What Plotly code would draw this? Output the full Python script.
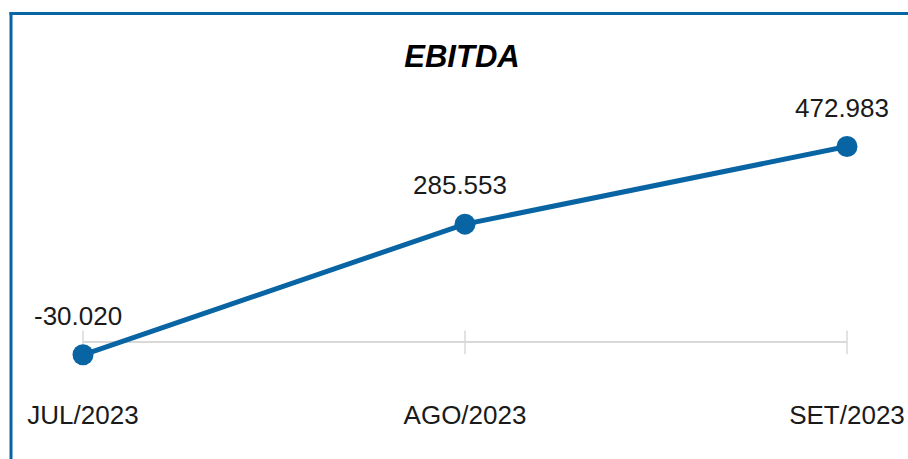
import plotly.graph_objects as go

categories = ["JUL/2023", "AGO/2023", "SET/2023"]
ebitda = [-30.020, 285.553, 472.983]
value_labels = ["-30.020", "285.553", "472.983"]

W, H = 908, 459
ML, MR, MT, MB = 83, 61, 60, 62
PW = W - ML - MR
PH = H - MT - MB

BLUE = "#0864a3"
FONT = "Liberation Sans, Arial, sans-serif"

fig = go.Figure()

# axis tick marks crossing the zero line
fig.add_trace(go.Scatter(
    x=categories, y=[0] * len(categories), mode="markers",
    marker=dict(symbol="line-ns", size=17, line=dict(width=1.5, color="#d9d9d9")),
    hoverinfo="skip", showlegend=False, cliponaxis=False,
))

fig.add_trace(go.Scatter(
    x=categories, y=ebitda, mode="lines+markers",
    line=dict(color=BLUE, width=5),
    marker=dict(color=BLUE, size=21),
    showlegend=False, cliponaxis=False,
))

for c, v, t in zip(categories, ebitda, value_labels):
    fig.add_annotation(x=c, y=v, text=t, showarrow=False, yshift=39, xshift=-5,
                       font=dict(family=FONT, size=26, color="#1a1a1a"))

def px_x(p):
    return (p - ML) / PW

def px_y(p):
    return 1 - (p - MT) / PH

# frame border (left and top visible)
fig.add_shape(type="line", xref="paper", yref="paper",
              x0=px_x(11), x1=px_x(11), y0=px_y(12), y1=px_y(H + 20),
              line=dict(color=BLUE, width=3))
fig.add_shape(type="line", xref="paper", yref="paper",
              x0=px_x(9.5), x1=px_x(W + 20), y0=px_y(13.5), y1=px_y(13.5),
              line=dict(color=BLUE, width=3))

fig.update_layout(
    width=W, height=H,
    margin=dict(l=ML, r=MR, t=MT, b=MB, autoexpand=False),
    paper_bgcolor="white", plot_bgcolor="white",
    title=dict(text="<b><i>EBITDA</i></b>", x=px_x(462), xref="paper", xanchor="center",
               y=1 - 56 / H, yref="container", yanchor="middle",
               font=dict(family=FONT, size=31, color="black")),
    xaxis=dict(type="category", range=[0, 2], showgrid=False, showline=False, automargin=False,
               zeroline=False, ticks="", tickfont=dict(family=FONT, size=26, color="#1a1a1a")),
    yaxis=dict(range=[-132, 682], showgrid=False, showticklabels=False, automargin=False,
               zeroline=True, zerolinecolor="#d9d9d9", zerolinewidth=1.5, showline=False),
    font=dict(family=FONT),
)

fig.write_html("out.html", config={"displayModeBar": False},
               post_script="document.body.style.margin='0';document.body.style.overflow='hidden';")
